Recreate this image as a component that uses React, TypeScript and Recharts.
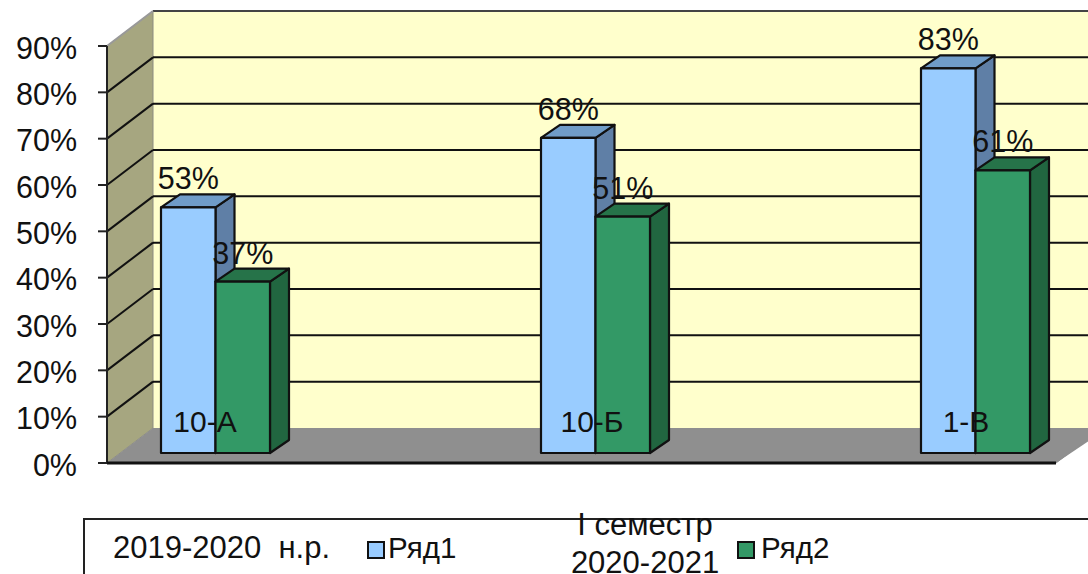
import React from "react";
import { BarChart, Bar, XAxis, YAxis, Legend, LabelList } from "recharts";

const categories = ["10-А", "10-Б", "1-В"];
const series1 = [53, 68, 83];
const series2 = [37, 51, 61];
const axisTicks = [0, 10, 20, 30, 40, 50, 60, 70, 80, 90];
const seriesNames = ["Ряд1", "Ряд2"];
const legendCaption1 = "2019-2020  н.р.";
const legendCaption2 = ["І семестр", "2020-2021"];

const data = categories.map((c, i) => ({ name: c, a: series1[i], b: series2[i] }));

const FONT = "'Liberation Sans', Arial, sans-serif";
const FS = 30.5;
const W = 1088, H = 574;
const L = 107, R = 1056, T = 46, B = 463;
const WALL_DX = 46, WALL_DY = 35;
const BAR_DX = 19, BAR_DY = 13, BAR_LIFT = 10;
const tickNudge = [-10, -3, -9];

function Scene() {
  const yOf = (v: number) => B - (v / 90) * (B - T);
  const bx = L + WALL_DX;
  const floorBack = B - WALL_DY;
  return (
    <g>
      <rect x={bx} y={T - WALL_DY} width={W - bx} height={B - T} fill="#FFFFCC" />
      <polygon points={`${L},${T} ${bx},${T - WALL_DY} ${bx},${floorBack} ${L},${B}`} fill="#A6A680" stroke="#8c8c80" strokeWidth={1} />
      <polygon points={`${L},${B} ${bx},${floorBack} ${W + 20},${floorBack} ${R},${B}`} fill="#8F8F8F" />
      {axisTicks.filter((v) => v > 0).map((v) => (
        <g key={v}>
          <line x1={bx} x2={W} y1={yOf(v) - WALL_DY} y2={yOf(v) - WALL_DY} stroke={v === 90 ? "#444" : "#111"} strokeWidth={2} />
          {v < 90 && <line x1={L} x2={bx} y1={yOf(v)} y2={yOf(v) - WALL_DY} stroke="#111" strokeWidth={2} />}
        </g>
      ))}
      <line x1={L} x2={bx} y1={T} y2={T - WALL_DY} stroke="#999" strokeWidth={2} />
      <line x1={R} x2={R + WALL_DX} y1={B} y2={floorBack} stroke="#8F8F8F" strokeWidth={1} />
    </g>
  );
}

function Bar3D(props: any) {
  const { x, y, width, height, fill, topFill, sideFill } = props;
  const top = y - BAR_LIFT;
  const bot = y + height - BAR_LIFT;
  const r = x + width;
  return (
    <g stroke="#111" strokeWidth={2.2} strokeLinejoin="round">
      <polygon points={`${r},${top} ${r + BAR_DX},${top - BAR_DY} ${r + BAR_DX},${bot - BAR_DY} ${r},${bot}`} fill={sideFill} />
      <polygon points={`${x},${top} ${x + BAR_DX},${top - BAR_DY} ${r + BAR_DX},${top - BAR_DY} ${r},${top}`} fill={topFill} />
      <rect x={x} y={top} width={width} height={height} fill={fill} />
    </g>
  );
}

function ValueLabel(props: any) {
  const { x, y, width, value } = props;
  return (
    <text x={x + width / 2} y={y - 39} textAnchor="middle" dominantBaseline="central" fontFamily={FONT} fontSize={FS} fill="#111">
      {value}%
    </text>
  );
}

function CategoryTick(props: any) {
  const { x, y, payload, index } = props;
  return (
    <text x={x + tickNudge[index]} y={y - 42} textAnchor="middle" dominantBaseline="central" fontFamily={FONT} fontSize={30} fill="#111">
      {payload.value}
    </text>
  );
}

function LegendBox(props: any) {
  const items = props.payload || [];
  const abs = (left: number, top: number, size: number): React.CSSProperties => ({
    position: "absolute", left, top, whiteSpace: "pre", fontFamily: FONT, fontSize: size, lineHeight: "38px", color: "#111",
  });
  const marker = (left: number, color: string): React.CSSProperties => ({
    position: "absolute", left, top: 21, width: 14, height: 14, background: color, border: "2px solid #111",
  });
  return (
    <div style={{ position: "relative", width: 1100, height: 120, border: "2px solid #222", boxSizing: "border-box" }}>
      <div style={abs(28, 9, 31)}>{legendCaption1}</div>
      {items[0] && <div style={marker(282, items[0].color)} />}
      {items[0] && <div style={abs(303, 9, 29.5)}>{items[0].value}</div>}
      <div style={{ ...abs(440, -14, 31), width: 240, textAlign: "center" }}>
        {legendCaption2[0]}
        <br />
        {legendCaption2[1]}
      </div>
      {items[1] && <div style={marker(652, items[1].color)} />}
      {items[1] && <div style={abs(676, 9, 29.5)}>{items[1].value}</div>}
    </div>
  );
}

export default function App() {
  return (
    <div style={{ position: "absolute", left: 0, top: 0, width: W, height: H, overflow: "hidden", background: "#fff" }}>
      <BarChart
        width={W}
        height={H}
        data={data}
        barGap={0}
        barSize={54.5}
        margin={{ top: T, bottom: H - B - 1, left: 0, right: W - R }}
      >
        <Scene />
        <Bar dataKey="a" name={seriesNames[0]} fill="#99CCFF" isAnimationActive={false}
          shape={(p: any) => <Bar3D {...p} topFill="#709CC8" sideFill="#5F7FA6" />}>
          <LabelList dataKey="a" content={ValueLabel} />
        </Bar>
        <Bar dataKey="b" name={seriesNames[1]} fill="#339966" isAnimationActive={false}
          shape={(p: any) => <Bar3D {...p} topFill="#267349" sideFill="#216640" />}>
          <LabelList dataKey="b" content={ValueLabel} />
        </Bar>
        <YAxis
          width={L}
          domain={[0, 90]}
          ticks={axisTicks}
          interval={0}
          tickFormatter={(v: number) => `${v}%`}
          tickSize={9}
          tickMargin={21}
          axisLine={{ stroke: "#222", strokeWidth: 2 }}
          tickLine={{ stroke: "#222", strokeWidth: 2 }}
          tick={{ fontFamily: FONT, fontSize: FS, fill: "#111", dy: 2 }}
        />
        <XAxis
          dataKey="name"
          height={1}
          padding={{ left: -82, right: -109 }}
          interval={0}
          tickSize={0}
          tickMargin={0}
          tickLine={false}
          axisLine={{ stroke: "#111", strokeWidth: 3 }}
          tick={CategoryTick}
        />
        <Legend
          layout="horizontal"
          verticalAlign="middle"
          content={LegendBox}
          wrapperStyle={{ left: 83, top: 518, width: 1100, height: 120, bottom: "auto", margin: 0 }}
        />
      </BarChart>
    </div>
  );
}
